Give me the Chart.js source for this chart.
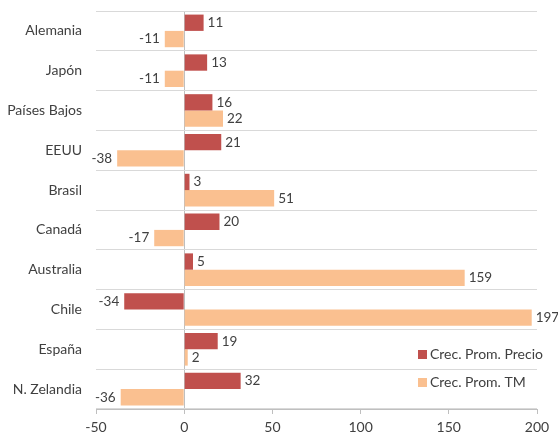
<!DOCTYPE html>
<html>
<head>
<meta charset="utf-8">
<script src="https://cdn.jsdelivr.net/npm/chart.js@4"></script>
<style>
  html, body { margin: 0; padding: 0; background: #ffffff; }
  #wrap { width: 558px; height: 441px; }
</style>
</head>
<body>
<div id="wrap"><canvas id="chart" width="558" height="441"></canvas></div>
<script>
// datos del gráfico
const paises = ['Alemania', 'Japón', 'Países Bajos', 'EEUU', 'Brasil', 'Canadá', 'Australia', 'Chile', 'España', 'N. Zelandia'];
const crecPrecio = [11, 13, 16, 21, 3, 20, 5, -34, 19, 32];
const crecTM = [-11, -11, 22, -38, 51, -17, 159, 197, 2, -36];
const ejeX = { min: -50, max: 200, paso: 50 };

const colorPrecio = '#C0504D';
const colorTM = '#FAC090';
const colorTexto = '#404040';
const colorEje = '#BFBFBF';
const colorGrid = '#D9D9D9';
const fuente = 'Lato, "Open Sans", sans-serif';

// etiquetas de valor al final de cada barra
const etiquetasValor = {
    id: 'etiquetasValor',
    afterDatasetsDraw(chart) {
        const ctx = chart.ctx;
        ctx.save();
        ctx.font = '13.5px ' + fuente;
        ctx.fillStyle = colorTexto;
        ctx.textBaseline = 'middle';
        chart.data.datasets.forEach((ds, i) => {
            chart.getDatasetMeta(i).data.forEach((bar, j) => {
                const v = ds.data[j];
                if (v < 0) {
                    ctx.textAlign = 'right';
                    ctx.fillText(String(v), bar.x - 5, bar.y);
                } else {
                    ctx.textAlign = 'left';
                    ctx.fillText(String(v), bar.x + 4, bar.y);
                }
            });
        });
        ctx.restore();
    }
};

// leyenda dentro del área del gráfico (abajo a la derecha)
const leyendaInterna = {
    id: 'leyendaInterna',
    afterDraw(chart) {
        const ctx = chart.ctx;
        const area = chart.chartArea;
        ctx.save();
        ctx.font = '14px ' + fuente;
        ctx.textAlign = 'left';
        ctx.textBaseline = 'middle';
        const filas = [area.bottom - 55, area.bottom - 27];
        chart.data.datasets.forEach((ds, i) => {
            const y = filas[i];
            const x = area.right - 119;
            ctx.fillStyle = ds.backgroundColor;
            ctx.fillRect(x, y - 4, 9, 9);
            ctx.fillStyle = colorTexto;
            ctx.fillText(ds.label, x + 12, y);
        });
        ctx.restore();
    }
};

const ctx = document.getElementById('chart').getContext('2d');
const grafico = new Chart(ctx, {
    type: 'bar',
    data: {
        labels: paises,
        datasets: [{
            label: 'Crec. Prom. Precio',
            data: crecPrecio,
            backgroundColor: colorPrecio
        }, {
            label: 'Crec. Prom. TM',
            data: crecTM,
            backgroundColor: colorTM
        }]
    },
    options: {
        indexAxis: 'y',
        responsive: false,
        animation: false,
        barPercentage: 1,
        categoryPercentage: 0.82,
        layout: { padding: { top: 11, right: 21, bottom: 0, left: 0 } },
        plugins: {
            legend: { display: false },
            tooltip: { enabled: false }
        },
        scales: {
            x: {
                min: ejeX.min,
                max: ejeX.max,
                ticks: {
                    stepSize: ejeX.paso,
                    color: colorTexto,
                    font: { family: fuente, size: 14 },
                    padding: 5
                },
                grid: {
                    color: (c) => (c.tick && c.tick.value === 0 ? colorEje : 'rgba(0,0,0,0)'),
                    tickColor: colorEje,
                    tickLength: 5
                },
                border: { display: true, color: colorEje },
                afterFit(scale) { scale.height = 32; }
            },
            y: {
                ticks: {
                    color: colorTexto,
                    font: { family: fuente, size: 14 },
                    padding: 14
                },
                grid: {
                    color: colorGrid,
                    drawTicks: false
                },
                border: { display: false },
                afterFit(scale) {
                    scale.width = 96;
                    // sin relleno extra arriba/abajo por las etiquetas
                    scale.paddingTop = 0;
                    scale.paddingBottom = 0;
                }
            }
        }
    },
    plugins: [etiquetasValor, leyendaInterna]
});
</script>
</body>
</html>
